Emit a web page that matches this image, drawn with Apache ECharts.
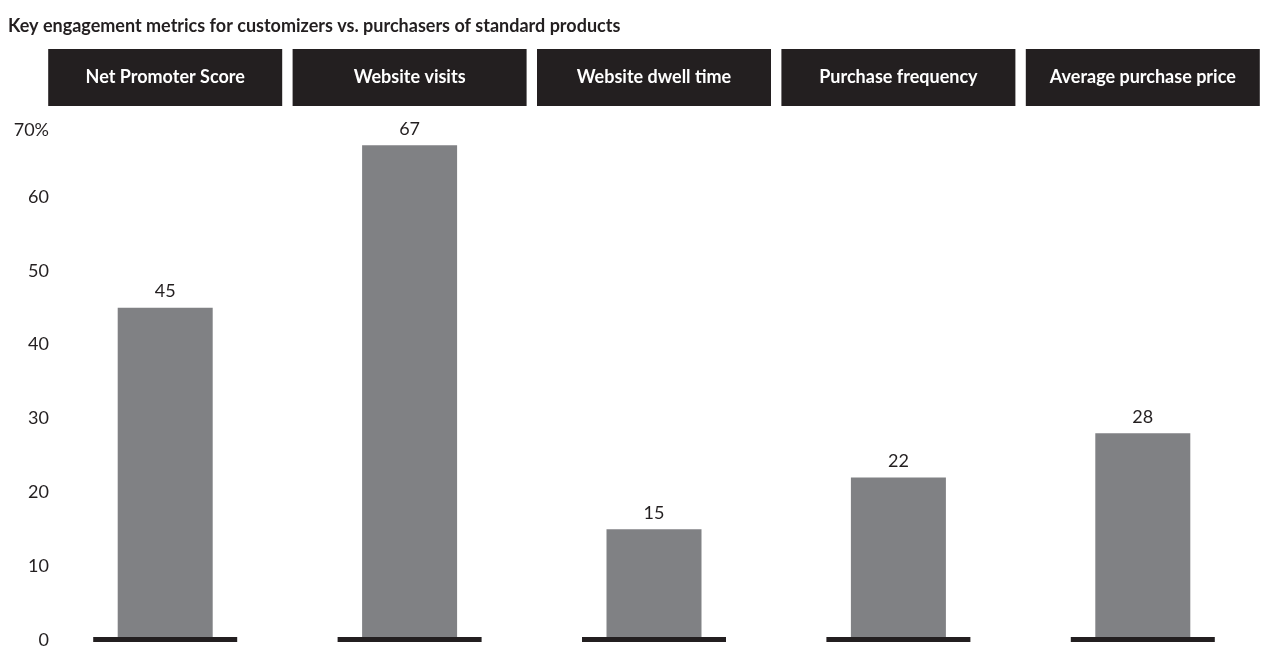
<!DOCTYPE html>
<html><head><meta charset="utf-8">
<script src="https://cdn.jsdelivr.net/npm/echarts@6/dist/echarts.min.js"></script>
<style>html,body{margin:0;padding:0;background:#fff}#c{width:1270px;height:649px}</style>
</head><body><div id="c"></div>
<script>
const titleText = 'Key engagement metrics for customizers vs. purchasers of standard products';
const categories = ['Net Promoter Score', 'Website visits', 'Website dwell time', 'Purchase frequency', 'Average purchase price'];
const values = [45, 67, 15, 22, 28];
const yTicks = [0, 10, 20, 30, 40, 50, 60, 70];

const chart = echarts.init(document.getElementById('c'), null, {renderer: 'canvas'});
chart.setOption({
  animation: false,
  title: {
    text: titleText, left: 3, top: 12,
    textStyle: {fontFamily: 'Lato', fontWeight: 'bold', fontSize: 18, color: '#231f20'}
  },
  grid: {left: 43, right: 5, top: 123, bottom: 8, containLabel: false},
  xAxis: {
    type: 'category', data: categories, position: 'top',
    axisLine: {show: false}, axisTick: {show: false},
    axisLabel: {
      interval: 0, margin: 17, color: '#fff', fontFamily: 'Lato', fontWeight: 'bold', fontSize: 18,
      backgroundColor: '#231f20', width: 234, height: 57, lineHeight: 57, align: 'center', verticalAlign: 'bottom'
    }
  },
  yAxis: {
    type: 'value', min: 0, max: 70, interval: 10,
    splitLine: {show: false}, axisLine: {show: false}, axisTick: {show: false},
    axisLabel: {
      margin: -6, align: 'right', color: '#231f20', fontFamily: 'Lato', fontWeight: 'normal', fontSize: 18,
      formatter: v => yTicks.includes(v) ? (v === 70 ? '{t|' + v + '%}' : String(v)) : '',
      rich: {t: {fontFamily: 'Lato', fontWeight: 'normal', fontSize: 18, color: '#231f20', padding: [14, 0, 0, 0]}}
    }
  },
  series: [
    {
      type: 'bar', data: values, barWidth: 95, itemStyle: {color: '#808184'},
      label: {show: true, position: 'top', distance: 7, color: '#231f20', fontFamily: 'Lato', fontWeight: 'normal', fontSize: 18}
    },
    {
      type: 'custom', data: values.map((v, i) => [i, 0]),
      renderItem: (params, api) => {
        const p = api.coord([api.value(0), 0]);
        return {type: 'rect', shape: {x: p[0] - 72, y: p[1] - 3, width: 144, height: 5}, style: {fill: '#231f20'}};
      },
      z: 5
    }
  ]
});
</script></body></html>
